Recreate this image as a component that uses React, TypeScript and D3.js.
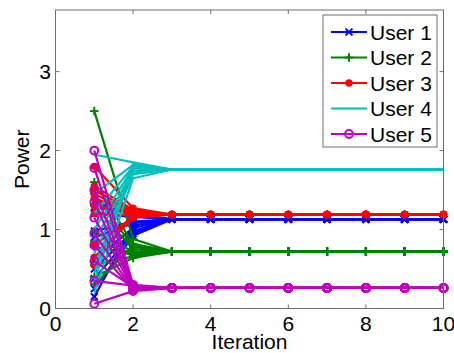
import React from "react";
import * as d3 from "d3";

// iterations on the x axis
const iterations = [1, 2, 3, 4, 5, 6, 7, 8, 9, 10];
const xTicks = [0, 2, 4, 6, 8, 10];
const yTicks = [0, 1, 2, 3];
const userNames = ["User 1", "User 2", "User 3", "User 4", "User 5"];

// one row per run
const user1Runs = [
  [1.35, 1.18, 1.13, 1.13, 1.13, 1.13, 1.13, 1.13, 1.13, 1.13],
  [1.28, 1.2, 1.13, 1.13, 1.13, 1.13, 1.13, 1.13, 1.13, 1.13],
  [1.2, 1.16, 1.13, 1.13, 1.13, 1.13, 1.13, 1.13, 1.13, 1.13],
  [0.98, 1.1, 1.13, 1.13, 1.13, 1.13, 1.13, 1.13, 1.13, 1.13],
  [0.9, 1.08, 1.13, 1.13, 1.13, 1.13, 1.13, 1.13, 1.13, 1.13],
  [0.62, 1.02, 1.13, 1.13, 1.13, 1.13, 1.13, 1.13, 1.13, 1.13],
  [0.5, 0.98, 1.13, 1.13, 1.13, 1.13, 1.13, 1.13, 1.13, 1.13],
  [0.38, 0.95, 1.13, 1.13, 1.13, 1.13, 1.13, 1.13, 1.13, 1.13],
  [0.25, 0.92, 1.13, 1.13, 1.13, 1.13, 1.13, 1.13, 1.13, 1.13],
  [0.15, 1.05, 1.13, 1.13, 1.13, 1.13, 1.13, 1.13, 1.13, 1.13],
];
const user2Runs = [
  [2.5, 0.88, 0.72, 0.72, 0.72, 0.72, 0.72, 0.72, 0.72, 0.72],
  [1.6, 0.82, 0.72, 0.72, 0.72, 0.72, 0.72, 0.72, 0.72, 0.72],
  [1.45, 0.78, 0.72, 0.72, 0.72, 0.72, 0.72, 0.72, 0.72, 0.72],
  [1.3, 0.75, 0.72, 0.72, 0.72, 0.72, 0.72, 0.72, 0.72, 0.72],
  [0.98, 0.72, 0.72, 0.72, 0.72, 0.72, 0.72, 0.72, 0.72, 0.72],
  [0.85, 0.7, 0.72, 0.72, 0.72, 0.72, 0.72, 0.72, 0.72, 0.72],
  [0.78, 0.68, 0.72, 0.72, 0.72, 0.72, 0.72, 0.72, 0.72, 0.72],
  [0.55, 0.66, 0.72, 0.72, 0.72, 0.72, 0.72, 0.72, 0.72, 0.72],
  [0.4, 0.64, 0.72, 0.72, 0.72, 0.72, 0.72, 0.72, 0.72, 0.72],
  [0.3, 0.8, 0.72, 0.72, 0.72, 0.72, 0.72, 0.72, 0.72, 0.72],
];
const user3Runs = [
  [1.8, 1.27, 1.19, 1.19, 1.19, 1.19, 1.19, 1.19, 1.19, 1.19],
  [1.55, 1.25, 1.19, 1.19, 1.19, 1.19, 1.19, 1.19, 1.19, 1.19],
  [1.5, 1.23, 1.19, 1.19, 1.19, 1.19, 1.19, 1.19, 1.19, 1.19],
  [1.45, 1.22, 1.19, 1.19, 1.19, 1.19, 1.19, 1.19, 1.19, 1.19],
  [1.4, 1.2, 1.19, 1.19, 1.19, 1.19, 1.19, 1.19, 1.19, 1.19],
  [1.3, 1.19, 1.19, 1.19, 1.19, 1.19, 1.19, 1.19, 1.19, 1.19],
  [1.2, 1.18, 1.19, 1.19, 1.19, 1.19, 1.19, 1.19, 1.19, 1.19],
  [0.8, 1.16, 1.19, 1.19, 1.19, 1.19, 1.19, 1.19, 1.19, 1.19],
  [0.65, 1.15, 1.19, 1.19, 1.19, 1.19, 1.19, 1.19, 1.19, 1.19],
  [0.55, 1.21, 1.19, 1.19, 1.19, 1.19, 1.19, 1.19, 1.19, 1.19],
];
const user4Runs = [
  [1.95, 1.85, 1.76, 1.76, 1.76, 1.76, 1.76, 1.76, 1.76, 1.76],
  [1.45, 1.82, 1.76, 1.76, 1.76, 1.76, 1.76, 1.76, 1.76, 1.76],
  [1.2, 1.8, 1.76, 1.76, 1.76, 1.76, 1.76, 1.76, 1.76, 1.76],
  [1.0, 1.78, 1.76, 1.76, 1.76, 1.76, 1.76, 1.76, 1.76, 1.76],
  [0.85, 1.75, 1.76, 1.76, 1.76, 1.76, 1.76, 1.76, 1.76, 1.76],
  [0.7, 1.72, 1.76, 1.76, 1.76, 1.76, 1.76, 1.76, 1.76, 1.76],
  [0.55, 1.7, 1.76, 1.76, 1.76, 1.76, 1.76, 1.76, 1.76, 1.76],
  [0.45, 1.83, 1.76, 1.76, 1.76, 1.76, 1.76, 1.76, 1.76, 1.76],
  [0.35, 1.79, 1.76, 1.76, 1.76, 1.76, 1.76, 1.76, 1.76, 1.76],
  [0.2, 1.65, 1.76, 1.76, 1.76, 1.76, 1.76, 1.76, 1.76, 1.76],
];
const user5Runs = [
  [2.0, 0.3, 0.26, 0.26, 0.26, 0.26, 0.26, 0.26, 0.26, 0.26],
  [1.78, 0.28, 0.26, 0.26, 0.26, 0.26, 0.26, 0.26, 0.26, 0.26],
  [1.5, 0.27, 0.26, 0.26, 0.26, 0.26, 0.26, 0.26, 0.26, 0.26],
  [1.35, 0.26, 0.26, 0.26, 0.26, 0.26, 0.26, 0.26, 0.26, 0.26],
  [1.15, 0.25, 0.26, 0.26, 0.26, 0.26, 0.26, 0.26, 0.26, 0.26],
  [0.95, 0.24, 0.26, 0.26, 0.26, 0.26, 0.26, 0.26, 0.26, 0.26],
  [0.8, 0.23, 0.26, 0.26, 0.26, 0.26, 0.26, 0.26, 0.26, 0.26],
  [0.6, 0.27, 0.26, 0.26, 0.26, 0.26, 0.26, 0.26, 0.26, 0.26],
  [0.35, 0.29, 0.26, 0.26, 0.26, 0.26, 0.26, 0.26, 0.26, 0.26],
  [0.06, 0.22, 0.26, 0.26, 0.26, 0.26, 0.26, 0.26, 0.26, 0.26],
];

const allRuns = [user1Runs, user2Runs, user3Runs, user4Runs, user5Runs];
const colors = ["#0000ff", "#008000", "#ff0000", "#00bfbf", "#bf00bf"];
const markers = ["x", "+", "dot", "none", "o"];

const W = 454;
const H = 353;
const font = "'Liberation Sans', Arial, Helvetica, sans-serif";

const Marker = ({ type, cx, cy, color }: { type: string; cx: number; cy: number; color: string }) => {
  if (type === "x") {
    const s = 3.4;
    return (
      <g stroke={color} strokeWidth={2}>
        <line x1={cx - s} y1={cy - s} x2={cx + s} y2={cy + s} />
        <line x1={cx - s} y1={cy + s} x2={cx + s} y2={cy - s} />
      </g>
    );
  }
  if (type === "+") {
    const s = 4.2;
    return (
      <g stroke={color} strokeWidth={2}>
        <line x1={cx - s} y1={cy} x2={cx + s} y2={cy} />
        <line x1={cx} y1={cy - s} x2={cx} y2={cy + s} />
      </g>
    );
  }
  if (type === "dot") return <circle cx={cx} cy={cy} r={3.7} fill={color} />;
  if (type === "o") return <circle cx={cx} cy={cy} r={3.9} fill="none" stroke={color} strokeWidth={2} />;
  return null;
};

const App = () => {
  const x = d3.scaleLinear().domain([0, 10]).range([55.5, 443.5]);
  const y = d3.scaleLinear().domain([0, 3.78]).range([308.5, 10]);
  const line = d3
    .line<number>()
    .x((d, i) => x(iterations[i]))
    .y((d) => y(d));

  const [x0, x1] = x.range();
  const [y0, y1] = y.range();

  return (
    <svg
      width={W}
      height={H}
      style={{ position: "absolute", left: 0, top: 0, background: "#fff" }}
      fontFamily={font}
    >
      <rect x={0} y={0} width={W} height={H} fill="#fff" />

      {/* series */}
      {allRuns.map((runs, u) => (
        <g key={u}>
          {runs.map((run, r) => (
            <g key={r}>
              <path d={line(run) || ""} fill="none" stroke={colors[u]} strokeWidth={2.2} strokeLinejoin="round" />
              {run.map((v, i) => (
                <Marker key={i} type={markers[u]} cx={x(iterations[i])} cy={y(v)} color={colors[u]} />
              ))}
            </g>
          ))}
        </g>
      ))}

      {/* axes box + ticks */}
      <g stroke="#6e6e6e" strokeWidth={1}>
        <rect x={x0} y={y1} width={x1 - x0} height={y0 - y1} fill="none" />
        {xTicks.map((t) => (
          <g key={t}>
            <line x1={x(t)} x2={x(t)} y1={y0} y2={y0 - 4} />
            <line x1={x(t)} x2={x(t)} y1={y1} y2={y1 + 4} />
          </g>
        ))}
        {yTicks.map((t) => (
          <g key={t}>
            <line x1={x0} x2={x0 + 4} y1={y(t)} y2={y(t)} />
            <line x1={x1} x2={x1 - 4} y1={y(t)} y2={y(t)} />
          </g>
        ))}
      </g>

      <g fontSize={21} fill="#000">
        {xTicks.map((t) => (
          <text key={t} x={x(t)} y={331} textAnchor="middle">
            {t}
          </text>
        ))}
        {yTicks.map((t) => (
          <text key={t} x={51} y={y(t) + 7} textAnchor="end">
            {t}
          </text>
        ))}
        <text x={(x0 + x1) / 2} y={349} textAnchor="middle">
          Iteration
        </text>
        <text transform={`translate(29, ${(y0 + y1) / 2}) rotate(-90)`} textAnchor="middle">
          Power
        </text>
      </g>

      {/* legend */}
      <g>
        <rect x={323} y={15} width={114} height={132} fill="#fff" stroke="#6e6e6e" strokeWidth={1} />
        {userNames.map((name, i) => {
          const cy = 32 + i * 25.5;
          return (
            <g key={name}>
              <line x1={331} x2={367} y1={cy} y2={cy} stroke={colors[i]} strokeWidth={2} />
              <Marker type={markers[i]} cx={349} cy={cy} color={colors[i]} />
              <text x={370} y={cy + 7.5} fontSize={21} fill="#000">
                {name}
              </text>
            </g>
          );
        })}
      </g>
    </svg>
  );
};

export default App;
